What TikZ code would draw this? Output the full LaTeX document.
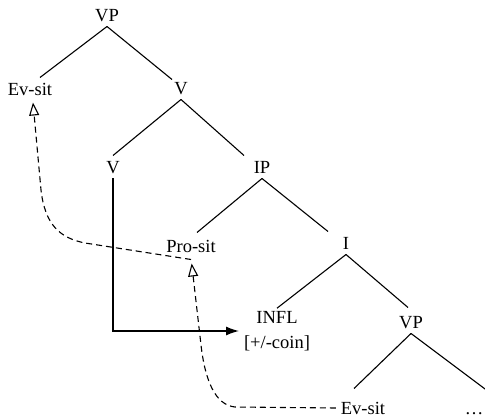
\documentclass[tikz,border=0pt]{standalone}
\usepackage{fontspec}
\setmainfont{Liberation Serif}
\usetikzlibrary{arrows.meta,positioning}

\begin{document}
\begin{tikzpicture}[x=1pt,y=-1pt,
    txt/.style={font=\fontsize{18.5}{25}\selectfont},
    lbl/.style={txt, inner sep=0pt, outer sep=5pt, text height=13pt, text depth=0pt},
    branch/.style={line width=1.1pt},
    move/.style={line width=1.5pt, -{Latex[length=13pt,width=9pt]}},
    chain/.style={line width=1.1pt, dash pattern=on 6pt off 4pt,
        -{Triangle[open,length=13pt,width=10pt,line width=1.1pt]}}]
        \useasboundingbox (0,0) rectangle (485,417);

        % tree
        \node[lbl] (vp) at (107,15) {VP};
        \node[lbl] (evsit1) at (30,89) {Ev-sit};
        \node[lbl] (v1) at (181,88) {V};
        \node[lbl] (v2) at (113,167) {V};
        \node[lbl] (ip) at (262,167) {IP};
        \node[lbl] (prosit) at (191,246) {Pro-sit};
        \node[lbl] (i) at (346,243) {I};
        \node[txt, inner sep=0pt, outer sep=5pt, align=center] (infl) at (277,331) {INFL\\{[+/-coin]}};
        \node[lbl] (vp2) at (411,322) {VP};
        \node[lbl] (evsit2) at (363,408) {Ev-sit};
        \node[lbl] (dots) at (474,408) {\ldots};

        \draw[branch] (vp.south) -- ([xshift=10pt]evsit1.north);
        \draw[branch] (vp.south) -- ([xshift=-9pt,yshift=-3pt]v1.north);
        \draw[branch] (v1.south) -- (v2.north);
        \draw[branch] (v1.south) -- ([xshift=-18pt]ip.north);
        \draw[branch] (ip.south) -- ([xshift=6pt,yshift=2pt]prosit.north);
        \draw[branch] (ip.south) -- ([xshift=-18pt]i.north);
        \draw[branch] (i.south) -- ([yshift=-2pt]infl.north);
        \draw[branch] (i.south) -- ([xshift=-3pt,yshift=3pt]vp2.north);
        \draw[branch] (vp2.south) -- ([xshift=-9pt,yshift=8pt]evsit2.north);
        \draw[branch] (vp2.south) -- ([xshift=21pt]dots.north);

        % movement
        \draw[move] (v2) |- (infl.west);
        \draw[chain] ([yshift=-2pt]prosit.south) -- (85,243)
            .. controls (60,238) and (45,225) .. (41,190) -- ([xshift=3pt,yshift=-2pt]evsit1.south);
        \draw[chain, shorten >=6pt] (evsit2.west) -- (235,407)
            .. controls (215,405) and (205,380) .. (201,345) -- (prosit.south);
\end{tikzpicture}
\end{document}
